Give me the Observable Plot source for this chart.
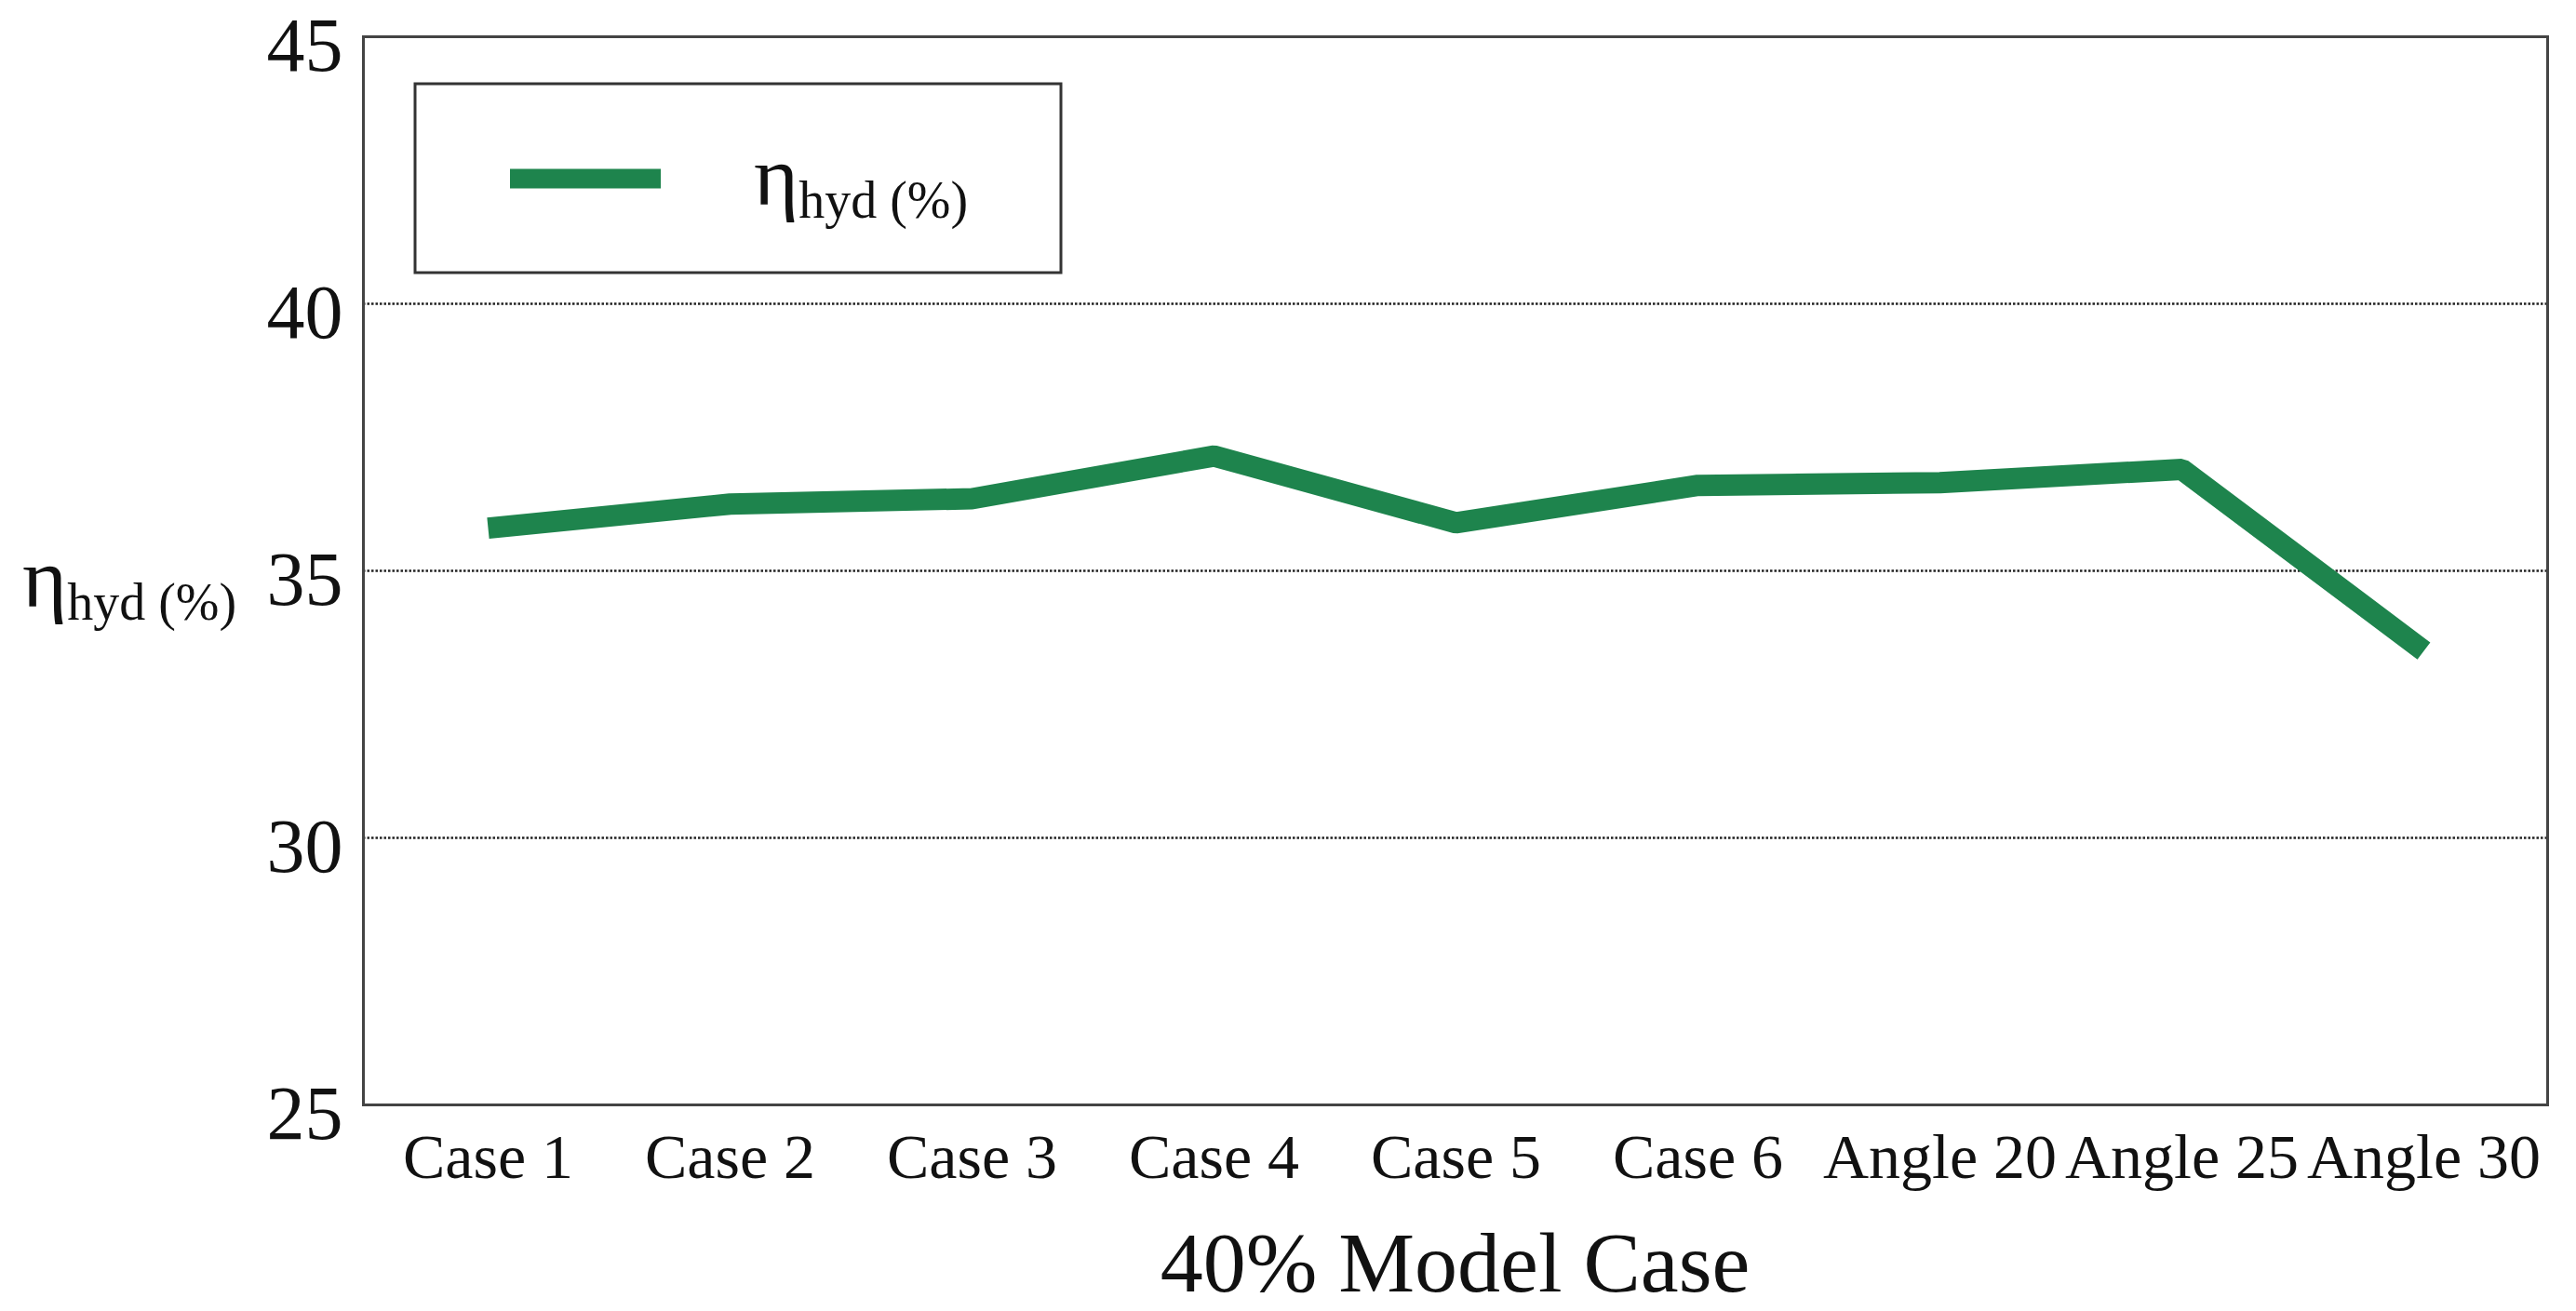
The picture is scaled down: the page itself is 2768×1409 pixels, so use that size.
<!DOCTYPE html>
<html>
<head>
<meta charset="utf-8">
<script src="https://cdn.jsdelivr.net/npm/d3@7"></script>
<script src="https://cdn.jsdelivr.net/npm/@observablehq/plot@0.6"></script>
<style>
  html, body { margin: 0; padding: 0; background: #fff; }
  svg { display: block; }
</style>
</head>
<body>
<div id="chart"></div>
<script>
const categories = ["Case 1", "Case 2", "Case 3", "Case 4", "Case 5", "Case 6", "Angle 20", "Angle 25", "Angle 30"];
const etaHyd = [35.8, 36.25, 36.35, 37.15, 35.9, 36.6, 36.65, 36.9, 33.5];
const yTicks = [25, 30, 35, 40, 45];
const gridTicks = [30, 35, 40];
const xTitle = "40% Model Case";
const seriesName = "hyd (%)";

const data = categories.map((c, i) => ({case: c, value: etaHyd[i]}));

const W = 2768, H = 1409;
const FONT = "'Liberation Serif', 'Times New Roman', serif";
const GREEN = "#1e844d";

const plot = Plot.plot({
  width: W,
  height: H,
  marginLeft: 390,
  marginRight: 31,
  marginTop: 39,
  marginBottom: 222,
  style: {fontFamily: FONT, background: "#fff", color: "#111"},
  x: {type: "point", domain: categories, padding: 0.5, label: null},
  y: {domain: [25, 45], ticks: yTicks, label: null},
  marks: [
    Plot.gridY(gridTicks, {stroke: "#222", strokeOpacity: 1, strokeWidth: 2.5, strokeDasharray: "2.5,2"}),
    Plot.axisY({ticks: yTicks, tickSize: 0, tickPadding: 22, fontSize: 82, dy: 10, label: null}),
    Plot.axisX({tickSize: 0, tickPadding: 30, fontSize: 68, label: null}),
    Plot.line(data, {x: "case", y: "value", stroke: GREEN, strokeWidth: 23, strokeLinejoin: "miter", strokeLinecap: "butt"}),
    Plot.frame({stroke: "#444", strokeWidth: 3})
  ]
});

document.getElementById("chart").appendChild(plot);

const svg = d3.select(plot);

// X axis title
svg.append("text")
  .attr("x", (390 + (W - 31)) / 2)
  .attr("y", 1388)
  .attr("text-anchor", "middle")
  .attr("font-family", FONT)
  .attr("font-size", 92)
  .attr("fill", "#111")
  .text(xTitle);

// η_hyd (%) label with subscript
function etaLabel(g, x, baseline) {
  const t = g.append("text")
    .attr("x", x)
    .attr("y", baseline)
    .attr("text-anchor", "start")
    .attr("font-family", FONT)
    .attr("fill", "#111");
  t.append("tspan").attr("font-size", 92).text("η");
  t.append("tspan").attr("font-size", 56).attr("dy", 14).text(seriesName);
}
etaLabel(svg, 24, 652);

// Legend
const lg = svg.append("g");
lg.append("rect")
  .attr("x", 446).attr("y", 90).attr("width", 694).attr("height", 203)
  .attr("fill", "#fff").attr("stroke", "#333").attr("stroke-width", 3);
lg.append("line")
  .attr("x1", 548).attr("x2", 710).attr("y1", 192).attr("y2", 192)
  .attr("stroke", GREEN).attr("stroke-width", 21);
etaLabel(lg, 810, 220);
</script>
</body>
</html>
